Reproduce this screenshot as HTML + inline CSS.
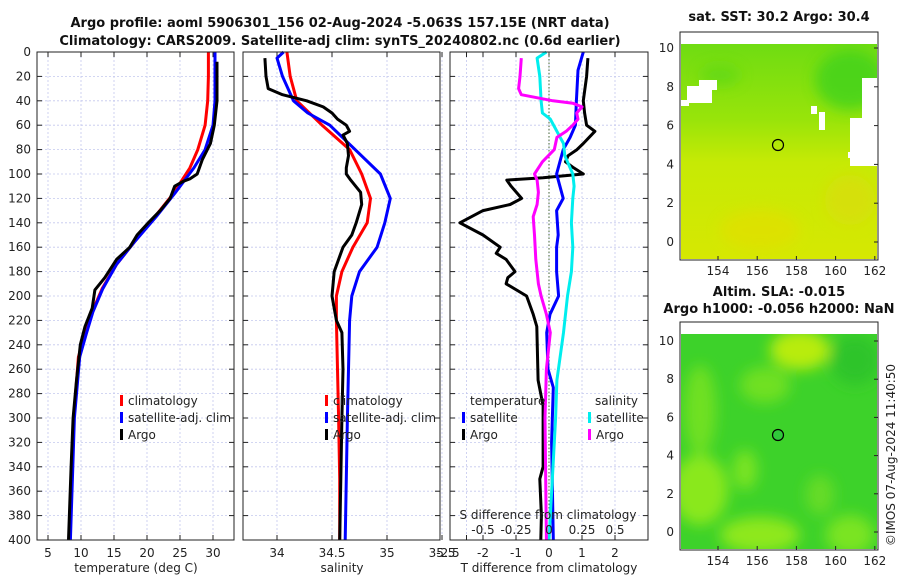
<!DOCTYPE html>
<html><head><meta charset="utf-8"><style>
body{margin:0;background:#fff;width:900px;height:580px;overflow:hidden}
svg{display:block;font-family:"DejaVu Sans","Liberation Sans",sans-serif}
.t{font-size:12px;fill:#222}
.b{font-weight:bold;font-size:13px;fill:#111}
</style></head><body>
<svg id="fig" width="900" height="580" viewBox="0 0 900 580">
<defs>
<linearGradient id="sstg" x1="0" y1="0" x2="0" y2="1">
<stop offset="0" stop-color="#6fdc12"/><stop offset="0.35" stop-color="#98e40a"/><stop offset="0.55" stop-color="#c6ea05"/><stop offset="1" stop-color="#d6e802"/></linearGradient>
<filter id="bl"><feGaussianBlur stdDeviation="7"/></filter>
<clipPath id="c1"><rect x="681" y="44" width="196" height="215"/></clipPath>
<clipPath id="c2"><rect x="681" y="334" width="196" height="215"/></clipPath>
</defs>
<text class="b" x="340" y="27" text-anchor="middle">Argo profile: aoml 5906301_156 02-Aug-2024 -5.063S 157.15E (NRT data)</text>
<text class="b" x="340" y="45" text-anchor="middle">Climatology: CARS2009. Satellite-adj clim: synTS_20240802.nc (0.6d earlier)</text>
<g id="p1"></g>
<g id="p2"></g>
<g id="p3"></g>
<g id="m1">
<text class="b" x="779" y="21" text-anchor="middle">sat. SST: 30.2 Argo: 30.4</text>
<g clip-path="url(#c1)">
<rect x="681" y="44" width="196" height="215" fill="url(#sstg)"/>
<g filter="url(#bl)" opacity="0.8">
<ellipse cx="850" cy="80" rx="35" ry="30" fill="#3fd21a"/>
<ellipse cx="720" cy="75" rx="20" ry="10" fill="#5fd818"/>
<ellipse cx="760" cy="230" rx="40" ry="20" fill="#e0e000"/>
<ellipse cx="850" cy="200" rx="25" ry="25" fill="#d8de10"/>
</g>
<rect x="687" y="86" width="25" height="17" fill="#fff"/>
<rect x="699" y="80" width="18" height="10" fill="#fff"/>
<rect x="862" y="78" width="15" height="60" fill="#fff"/>
<rect x="850" y="118" width="27" height="48" fill="#fff"/>
<rect x="848" y="152" width="8" height="6" fill="#fff"/>
<rect x="819" y="112" width="6" height="18" fill="#fff"/>
<rect x="811" y="106" width="6" height="8" fill="#fff"/>
<rect x="681" y="100" width="8" height="6" fill="#fff"/>
</g>
<rect x="680" y="32" width="198" height="228" fill="none" stroke="#222"/>
<circle cx="778" cy="145" r="5.5" fill="none" stroke="#000" stroke-width="1.2"/>
</g>
<g id="m2">
<text class="b" x="779" y="296" text-anchor="middle">Altim. SLA: -0.015</text>
<text class="b" x="779" y="313" text-anchor="middle">Argo h1000: -0.056 h2000: NaN</text>
<g clip-path="url(#c2)">
<rect x="681" y="334" width="196" height="215" fill="#3dd22a"/>
<g filter="url(#bl)">
<ellipse cx="800" cy="350" rx="30" ry="20" fill="#b8ec10"/>
<ellipse cx="700" cy="490" rx="28" ry="35" fill="#8ae81a"/>
<ellipse cx="700" cy="410" rx="16" ry="45" fill="#6fe020"/>
<ellipse cx="765" cy="385" rx="25" ry="18" fill="#6fe020"/>
<ellipse cx="760" cy="535" rx="40" ry="18" fill="#8ee81a"/>
<ellipse cx="850" cy="535" rx="24" ry="20" fill="#7ae420"/>
<ellipse cx="820" cy="495" rx="14" ry="20" fill="#66dc28"/>
<ellipse cx="745" cy="470" rx="12" ry="20" fill="#7ae420"/>
<ellipse cx="855" cy="360" rx="25" ry="25" fill="#2ec42a"/>
</g>
</g>
<rect x="680" y="322" width="198" height="228" fill="none" stroke="#222"/>
<circle cx="778" cy="435" r="5.5" fill="#30c83a" stroke="#000" stroke-width="1.2"/>
<text class="t" transform="translate(895,455) rotate(-90)" text-anchor="middle">©IMOS 07-Aug-2024 11:40:50</text>
</g>
</svg>
<script>
// ---- data ----
const depthTicks=[0,20,40,60,80,100,120,140,160,180,200,220,240,260,280,300,320,340,360,380,400];
const tTicks=[5,10,15,20,25,30];
const sTicks=[34,34.5,35,35.5];
const dtTicks=[-2,-1,0,1,2];
const dsTicks=[-0.5,-0.25,0,0.25,0.5];
const dsTickLabels=["-0.5","-0.25","0","0.25","0.5"];
const lonTicks=[154,156,158,160,162];
const latTicks=[0,2,4,6,8,10];

const tClimDepth=[0,20,40,60,80,95,116,135,155,174,194,213,231,250,300,350,400];
const tClimVal=[29.3,29.3,29.2,28.8,27.7,26.5,24.0,21.2,18.2,15.4,13.2,11.7,10.6,9.6,8.9,8.6,8.3];
const tSatVal=[30.3,30.3,30.3,30.0,28.8,27.1,24.2,21.4,18.2,15.4,13.3,11.8,10.8,9.8,9.0,8.7,8.4];
const tArgoDepth=[8,40,60,75,88,100,104,106,110,120,130,140,150,160,170,185,195,210,225,240,270,300,340,370,400];
const tArgoVal=[30.6,30.6,30.2,29.6,28.4,27.6,26.5,25.5,24.2,23.5,22.0,20.2,18.5,17.4,15.4,13.6,12.1,11.7,10.6,9.9,9.3,8.8,8.5,8.3,8.1];

const sClimDepth=[0,20,40,60,80,100,120,140,160,180,200,220,260,300,350,400];
const sClimVal=[34.09,34.12,34.18,34.41,34.66,34.77,34.85,34.82,34.69,34.59,34.54,34.54,34.55,34.56,34.57,34.57];
const sSatDepth=[0,5,20,40,50,60,80,100,120,140,160,180,200,220,260,300,350,400];
const sSatVal=[34.06,34.0,34.05,34.15,34.28,34.48,34.71,34.94,35.03,34.98,34.91,34.75,34.68,34.66,34.65,34.64,34.63,34.62];
const sArgoDepth=[5,20,30,35,40,45,50,55,60,65,68,75,85,95,100,105,115,125,140,150,160,180,200,205,220,230,260,300,350,400];
const sArgoVal=[33.89,33.9,33.92,34.05,34.27,34.42,34.5,34.55,34.63,34.66,34.6,34.64,34.65,34.63,34.63,34.67,34.76,34.77,34.72,34.68,34.6,34.52,34.5,34.51,34.54,34.59,34.6,34.59,34.58,34.57];

const dTArgoDepth=[5,20,40,50,60,65,75,80,85,90,95,100,103,105,110,120,125,130,140,150,160,165,170,180,185,190,200,215,225,269,290,320,340,350,380,400];
const dTArgoVal=[1.18,1.14,1.04,1.08,1.14,1.39,1.04,0.85,0.58,0.5,0.75,1.04,-0.18,-1.28,-1.15,-0.83,-1.18,-2.0,-2.7,-2.0,-1.48,-1.6,-1.3,-1.03,-1.25,-1.3,-0.68,-0.48,-0.37,-0.33,-0.18,-0.18,-0.18,-0.28,-0.23,-0.25];
const dTSatDepth=[0,15,40,60,70,80,90,100,110,120,130,150,160,180,200,215,230,260,275,320,400];
const dTSatVal=[1.04,0.88,0.83,0.8,0.64,0.43,0.33,0.23,0.33,0.43,0.23,0.28,0.23,0.23,0.29,0.03,-0.07,-0.03,0.13,0.08,0.13];
const dSSatDepth=[0,5,20,40,50,55,65,75,85,100,110,120,140,160,180,200,230,269,300,340,400];
const dSSatVal=[-0.02,-0.09,-0.07,-0.06,-0.05,0.01,0.06,0.11,0.12,0.18,0.19,0.18,0.17,0.18,0.17,0.14,0.11,0.06,0.05,0.03,0.0];
const dSArgoDepth=[5,20,30,35,40,42,45,50,55,60,65,70,75,80,90,100,105,115,125,135,150,170,190,200,215,230,260,300,400];
const dSArgoVal=[-0.21,-0.22,-0.23,-0.21,0.03,0.18,0.25,0.21,0.22,0.18,0.13,0.06,0.05,0.04,-0.05,-0.11,-0.09,-0.08,-0.09,-0.12,-0.11,-0.1,-0.08,-0.06,-0.02,0.01,-0.02,-0.03,-0.02];

// ---- axes ----
const NS='http://www.w3.org/2000/svg';
const Y0=52,Y1=540;
const yD=d=>Y0+(d/400)*(Y1-Y0);
const xT=t=>48+(t-5)*6.6;
const xS=s=>277+(s-34)*110;
const xDT=v=>549+v*33;
const xDS=v=>549+v*132;
const xLon=l=>718+(l-154)*19.6;
const yLat1=l=>242-l*19.4;
const yLat2=l=>532-l*19.1;
function mk(parent,tag,attrs){const e=document.createElementNS(NS,tag);for(const k in attrs)e.setAttribute(k,attrs[k]);parent.appendChild(e);return e;}
function txt(parent,x,y,s,anchor,cls){const e=mk(parent,'text',{x:x,y:y,'text-anchor':anchor||'middle',class:cls||'t'});e.textContent=s;return e;}
function line(g,depths,vals,fx,color,name){
  const d=depths.map((dp,i)=>(i?'L':'M')+fx(vals[i]).toFixed(1)+','+yD(dp).toFixed(1)).join('');
  const p=mk(g,'path',{d:d,fill:'none',stroke:color,'stroke-width':3,'stroke-linejoin':'round'});
  
  
}
function frame(g,x0,x1,vgrid){
  depthTicks.forEach(d=>{mk(g,'line',{x1:x0,x2:x1,y1:yD(d),y2:yD(d),stroke:'#c4c8ee','stroke-width':0.8,'stroke-dasharray':'2,2'});
    mk(g,'line',{x1:x0,x2:x0+5,y1:yD(d),y2:yD(d),stroke:'#222'});mk(g,'line',{x1:x1-5,x2:x1,y1:yD(d),y2:yD(d),stroke:'#222'});});
  vgrid.forEach(x=>{mk(g,'line',{x1:x,x2:x,y1:Y0,y2:Y1,stroke:'#c4c8ee','stroke-width':0.8,'stroke-dasharray':'2,2'});
    mk(g,'line',{x1:x,x2:x,y1:Y1-5,y2:Y1,stroke:'#222'});mk(g,'line',{x1:x,x2:x,y1:Y0,y2:Y0+5,stroke:'#222'});});
}
function border(g,x0,x1){mk(g,'rect',{x:x0,y:Y0,width:x1-x0,height:Y1-Y0,fill:'none',stroke:'#222','stroke-width':1});}
function legend(g,x,y,items){items.forEach((it,i)=>{mk(g,'rect',{x:x,y:y+i*17-10,width:3,height:11,fill:it[1]});const t=txt(g,x+8,y+i*17,it[0],'start');});}

// panel 1
const p1=document.getElementById('p1');
frame(p1,37,234,tTicks.map(xT));
depthTicks.forEach(d=>txt(p1,31,yD(d)+4,String(d),'end'));
tTicks.forEach(t=>txt(p1,xT(t),557,String(t)));
txt(p1,136,572,'temperature (deg C)');
line(p1,tClimDepth,tClimVal,xT,'#f00','temp-climatology-line');
line(p1,tClimDepth,tSatVal,xT,'#00f','temp-satellite-line');
line(p1,tArgoDepth,tArgoVal,xT,'#000','temp-argo-line');
border(p1,37,234);
legend(p1,120,405,[['climatology','#f00','climatology'],['satellite-adj. clim','#00f','satellite'],['Argo','#000','argo']]);

// panel 2
const p2=document.getElementById('p2');
frame(p2,243,440,sTicks.map(xS));
sTicks.forEach(s=>txt(p2,xS(s),557,String(s)));
txt(p2,342,572,'salinity');
line(p2,sClimDepth,sClimVal,xS,'#f00','sal-climatology-line');
line(p2,sSatDepth,sSatVal,xS,'#00f','sal-satellite-line');
line(p2,sArgoDepth,sArgoVal,xS,'#000','sal-argo-line');
border(p2,243,440);
legend(p2,325,405,[['climatology','#f00','climatology'],['satellite-adj. clim','#00f','satellite'],['Argo','#000','argo']]);

// panel 3
const p3=document.getElementById('p3');
frame(p3,450,648,dtTicks.map(xDT).concat([xDT(-2.5)]));
mk(p3,'line',{x1:xDT(0),x2:xDT(0),y1:Y0,y2:Y1,stroke:'#446633','stroke-width':1,'stroke-dasharray':'1.5,2'});
dtTicks.forEach(t=>txt(p3,xDT(t),557,String(t)));
txt(p3,448,557,'-2.5');
txt(p3,549,572,'T difference from climatology');
line(p3,dTArgoDepth,dTArgoVal,xDT,'#000','tdiff-argo-line');
line(p3,dTSatDepth,dTSatVal,xDT,'#00f','tdiff-satellite-line');
line(p3,dSSatDepth,dSSatVal,xDS,'#0ee','sdiff-satellite-line');
line(p3,dSArgoDepth,dSArgoVal,xDS,'#f0f','sdiff-argo-line');
border(p3,450,648);
txt(p3,470,405,'temperature','start');
legend(p3,462,422,[['satellite','#00f','t-satellite'],['Argo','#000','t-argo']]);
txt(p3,595,405,'salinity','start');
legend(p3,588,422,[['satellite','#0ee','s-satellite'],['Argo','#f0f','s-argo']]);
txt(p3,548,519,'S difference from climatology');
dsTicks.forEach((v,i)=>txt(p3,xDS(v),534,dsTickLabels[i]));

// maps axes
[[document.getElementById('m1'),yLat1,260],[document.getElementById('m2'),yLat2,550]].forEach(([g,fy,yb])=>{
  lonTicks.forEach(l=>{txt(g,xLon(l),yb+15,String(l));mk(g,'line',{x1:xLon(l),x2:xLon(l),y1:yb-4,y2:yb,stroke:'#222'});});
  latTicks.forEach(l=>{txt(g,674,fy(l)+4,String(l),'end');mk(g,'line',{x1:874,x2:878,y1:fy(l),y2:fy(l),stroke:'#222'});});
});
</script>
</body></html>
